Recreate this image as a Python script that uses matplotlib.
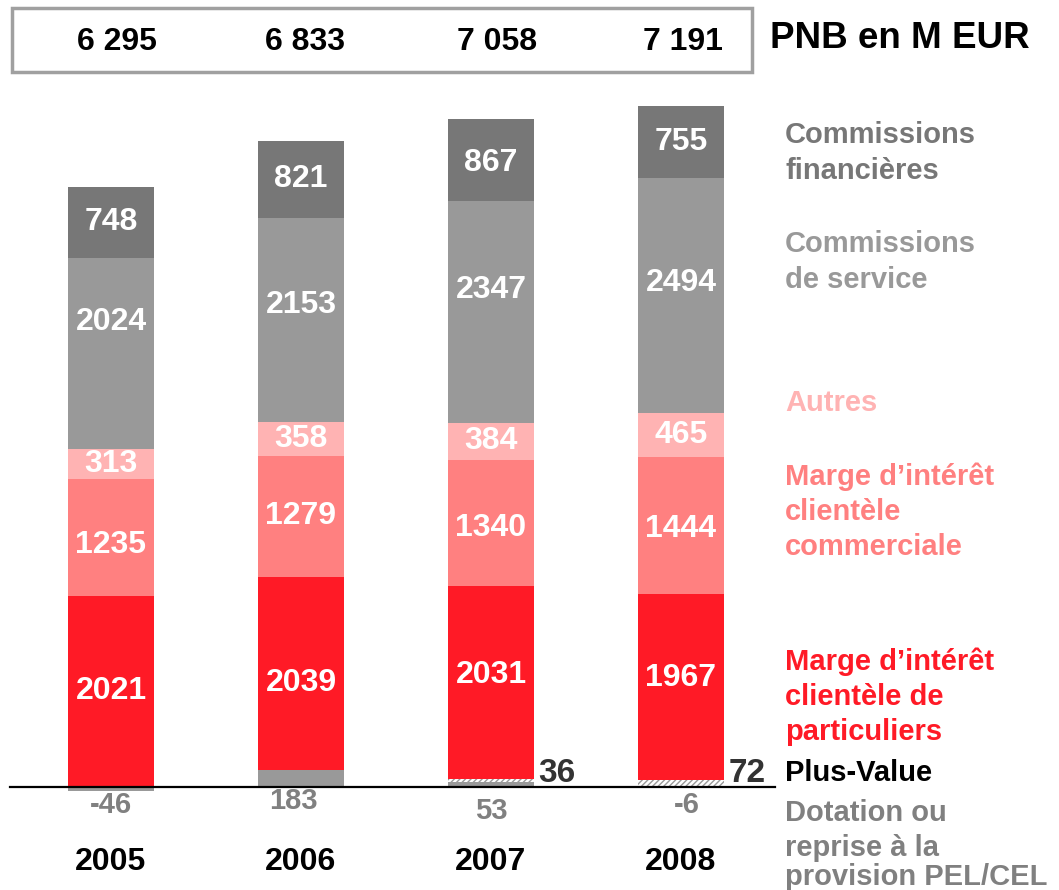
import matplotlib
matplotlib.use('Agg')
import matplotlib.pyplot as plt
from matplotlib.patches import Rectangle

# data (M EUR)
years = ['2005', '2006', '2007', '2008']
dotation = [-46, 183, 53, -6]          # Dotation ou reprise provision PEL/CEL
plus_value = [0, 0, 36, 72]
marge_part = [2021, 2039, 2031, 1967]
marge_com = [1235, 1279, 1340, 1444]
autres = [313, 358, 384, 465]
comm_service = [2024, 2153, 2347, 2494]
comm_fin = [748, 821, 867, 755]

c_red = '#FF1A26'
c_salmon = '#FF8080'
c_pink = '#FFB3B3'
c_grey = '#999999'
c_dark = '#777777'
c_lab = '#808080'

sans = ['Liberation Sans', 'DejaVu Sans']

W, H = 1059, 890
fig = plt.figure(figsize=(W / 100, H / 100), dpi=100)
ax = fig.add_axes([0, 0, 1, 1])
ax.set_xlim(-111 / 190, (W - 111) / 190)
ax.set_ylim(-103 * 10.57, 787 * 10.57)
ax.axis('off')

x = list(range(len(years)))
bw = 0.455

# positive stack
base = [max(d, 0) for d in dotation]
ax.bar(x, base, bw, color=c_grey, linewidth=0)
ax.bar(x, [min(d, 0) for d in dotation], bw, color=c_grey, linewidth=0)
ax.bar(x, plus_value, bw, bottom=base, color='white', edgecolor='#999999',
       hatch='//////', linewidth=0)
base = [b + p for b, p in zip(base, plus_value)]

# label nudges (value units) so labels sit like in the original slide
segments = [(marge_part, c_red, [0, -100, 80, 100]),
            (marge_com, c_salmon, [-80, 0, -50, -30]),
            (autres, c_pink, [0, 0, 0, 0]),
            (comm_service, c_grey, [330, 160, 240, 135]),
            (comm_fin, c_dark, [0, 0, -30, 0])]
for vals, col, nudge in segments:
    ax.bar(x, vals, bw, bottom=base, color=col, linewidth=0)
    for i, v in enumerate(vals):
        ax.text(i, base[i] + v / 2 + nudge[i], str(v), ha='center',
                va='center', color='white', fontsize=23, fontweight='bold',
                family=sans)
    base = [b + v for b, v in zip(base, vals)]

# baseline
ax.plot([-0.53, 3.495], [0, 0], color='black', lw=1.6)

# dotation labels under the baseline
dot_off = [-190, -150, -250, -190]
dot_dx = [0, -0.04, 0, 0.03]
for i, d in enumerate(dotation):
    ax.text(i + dot_dx[i], dot_off[i], str(d), ha='center', va='center',
            color=c_lab, fontsize=21, fontweight='bold', family=sans)

# plus-value labels
for i, p in enumerate(plus_value):
    if p:
        ax.text(i + 0.25, 145, str(p), ha='left', va='center',
                color='#333333', fontsize=24, fontweight='bold', family=sans)

# year labels
for i, yr in enumerate(years):
    ax.text(i, -790, yr, ha='center', va='center', color='black',
            fontsize=23, fontweight='bold', family=sans)


# top totals box
def fy(py):
    return 1 - py / H


fig.patches.append(Rectangle((12 / W, fy(72)), (752 - 12) / W, 64 / H,
                             transform=fig.transFigure, fill=False,
                             edgecolor='#A0A0A0', lw=2.5))
totals = [sum(v) for v in zip(dotation, plus_value, marge_part, marge_com,
                              autres, comm_service, comm_fin)]
tx = [117, 305, 497, 683]
for t, px in zip(totals, tx):
    s = f'{t:,}'.replace(',', ' ')
    fig.text(px / W, fy(42), s, ha='center', va='center', fontsize=23,
             fontweight='bold', family=sans)
fig.text(770 / W, fy(38), 'PNB en M EUR', ha='left', va='center',
         fontsize=26.5, fontweight='bold', family=sans)

# right side legend labels
legend = [
    (153, 'Commissions\nfinancières', c_dark),
    (262, 'Commissions\nde service', c_grey),
    (403, 'Autres', c_pink),
    (512, 'Marge d\u2019intérêt\nclientèle\ncommerciale', c_salmon),
    (697, 'Marge d\u2019intérêt\nclientèle de\nparticuliers', c_red),
    (773, 'Plus-Value', 'black'),
    (813, 'Dotation ou', c_lab),
    (848, 'reprise à la', c_lab),
    (877, 'provision PEL/CEL', c_lab),
]
for py, txt, col in legend:
    fig.text(785 / W, fy(py), txt, ha='left', va='center', color=col,
             fontsize=21, fontweight='bold', family=sans, linespacing=1.32)

fig.savefig('out.png', dpi=100)
